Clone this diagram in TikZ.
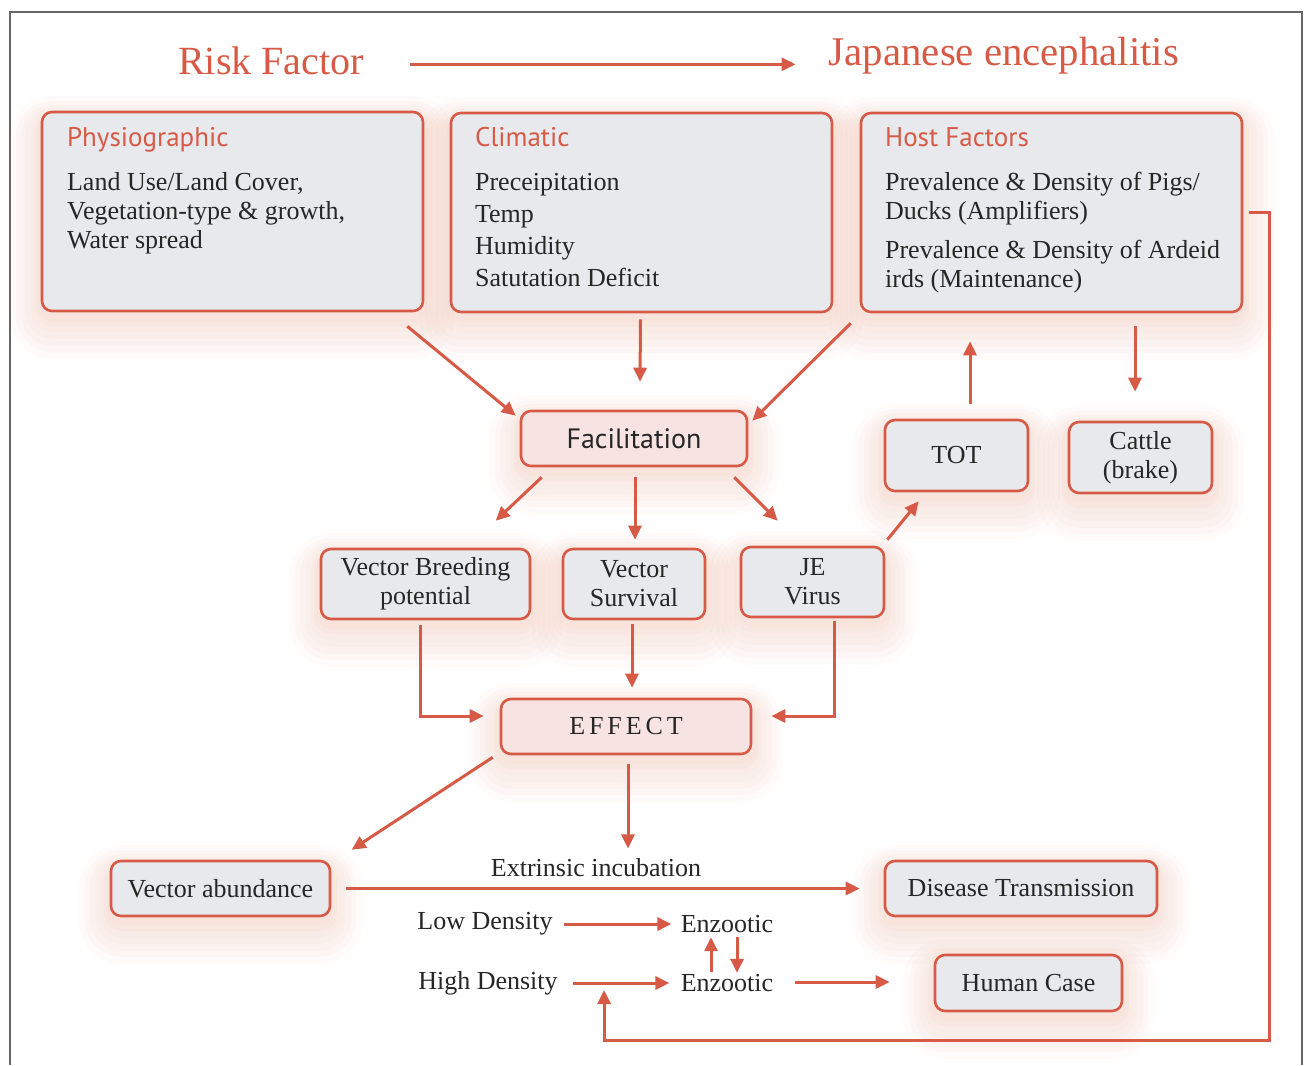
\documentclass[tikz,border=0pt]{standalone}
\usepackage{fontspec}
\setmainfont{Liberation Serif}
\setsansfont{PT Sans}
\usetikzlibrary{arrows.meta,positioning,calc}
\definecolor{jered}{HTML}{D65A45}
\definecolor{boxc}{HTML}{E8E9ED}
\definecolor{pinkc}{HTML}{F7E4E2}
\definecolor{glowc}{HTML}{E39A80}
\definecolor{inkc}{HTML}{262626}
\definecolor{framec}{HTML}{666666}
\newcommand{\jebody}{\fontsize{13}{14.5}\selectfont}
\newcommand{\jehead}{\fontsize{13.5}{16}\selectfont\sffamily\color{jered}}
\tikzset{
  glowring/.style 2 args={preaction={draw=glowc, line width=#1, draw opacity=0.045, line join=round, transform canvas={yshift=#2}}},
  glow/.style={glowring={32pt}{-8pt}, glowring={26pt}{-7.5pt}, glowring={21pt}{-7pt}, glowring={16pt}{-6pt},
    glowring={11pt}{-5pt}, glowring={7pt}{-4pt}, glowring={4pt}{-3pt}},
  blk/.style={draw=jered, line width=1.3pt, rounded corners=5pt, fill=boxc, glow, inner sep=0pt, align=center, font=\jebody, text=inkc},
  pblk/.style={blk, fill=pinkc},
  txt/.style={inner sep=0pt, font=\jebody, text=inkc},
  arr/.style={-{Triangle[length=7pt,width=6.5pt]}, line width=1.5pt, draw=jered},
}
\begin{document}
\begin{tikzpicture}[x=0.5pt, y=-0.5pt]
  \useasboundingbox (0,0) rectangle (1304,1065);
  \draw[framec, line width=0.7pt] (10,1065) -- (10,12) -- (1302,12) -- (1302,1065);

  % title line
  \node[txt, anchor=base, font=\fontsize{20}{22}\selectfont, text=jered] (risk) at (271,75) {Risk Factor};
  \node[txt, anchor=base, font=\fontsize{20.4}{22}\selectfont, text=jered] (japan) at (1004,66) {Japanese encephalitis};

  % factor boxes
  \node[blk, minimum width=190.5pt, minimum height=99.5pt] (phys) at (232.5,211.5) {};
  \node[blk, minimum width=190.5pt, minimum height=99.5pt] (clim) at (641.5,212.5) {};
  \node[blk, minimum width=190.5pt, minimum height=99.5pt] (host) at (1051.5,212.5) {};
  \node[txt, anchor=north west, align=left] (physt) at ([shift={(26,16)}]phys.north west)
    {{\jehead Physiographic}\\[7.5pt] Land Use/Land Cover,\\ Vegetation-type \& growth,\\ Water spread};
  \node[txt, anchor=north west, align=left, font=\fontsize{13}{16}\selectfont] (climt) at ([shift={(25,15)}]clim.north west)
    {{\jehead Climatic}\\[6pt] Preceipitation\\ Temp\\ Humidity\\ Satutation Deficit};
  \node[txt, anchor=north west, align=left] (hostt) at ([shift={(25,15)}]host.north west)
    {{\jehead Host Factors}\\[7.5pt] Prevalence \& Density of Pigs/\\ Ducks (Amplifiers)\\[5pt]
     Prevalence \& Density of Ardeid\\ irds (Maintenance)};

  % middle
  \node[pblk, minimum width=113pt, minimum height=27.5pt, font=\fontsize{14}{16}\selectfont\sffamily] (facil) at (634,438.5) {Facilitation};
  \node[blk, minimum width=104.5pt, minimum height=35pt] (vbp) at (425.5,584) {Vector Breeding\\ potential};
  \node[blk, minimum width=71pt, minimum height=35pt] (vs) at (634,584) {Vector\\ Survival};
  \node[blk, minimum width=71.5pt, minimum height=35pt] (jev) at (812.5,582) {JE\\ Virus};
  \node[blk, minimum width=71.5pt, minimum height=35.5pt] (tot) at (956.5,455.5) {TOT};
  \node[blk, minimum width=71.5pt, minimum height=35.5pt] (cattle) at (1140.5,457.5) {Cattle\\ (brake)};
  \node[pblk, minimum width=125pt, minimum height=27.5pt] (effect) at (626,726.5) {\addfontfeature{LetterSpace=15}EFFECT};

  % bottom
  \node[blk, minimum width=109.5pt, minimum height=27.5pt] (vabund) at (220.5,888.5) {Vector abundance};
  \node[blk, minimum width=136pt, minimum height=27.5pt] (distr) at (1021,888.5) {Disease Transmission};
  \node[blk, minimum width=93.5pt, minimum height=28pt] (human) at (1028.5,983) {Human Case};
  \node[txt] (extr) at (596,868) {Extrinsic incubation};
  \node[txt] (lowd) at (485,924) {Low Density};
  \node[txt] (highd) at (488,983) {High Density};
  \node[txt] (enz1) at (727,924) {Enzootic};
  \node[txt] (enz2) at (727,983) {Enzootic};

  \draw[arr] ([shift={(46,3)}]risk.east) -- ([shift={(-33,3)}]risk.east -| japan.west);
  \draw[arr] ([shift={(-17,14)}]phys.south east) -- ([shift={(-4,6)}]facil.north west);
  \draw[arr] ([shift={(-1,6)}]clim.south) -- ([shift={(6,-28)}]facil.north);
  \draw[arr] ([shift={(-9,10)}]host.south west) -- ([shift={(4,11)}]facil.north east);
  \draw[arr] ([shift={(22,10)}]facil.south west) -- ([shift={(176,-27)}]vbp.north west);
  \draw[arr] ([shift={(1,10)}]facil.south) -- ([shift={(1,-8)}]vs.north);
  \draw[arr] ([shift={(-14,10)}]facil.south east) -- ([shift={(38,-25)}]jev.north west);
  \draw[arr] ([shift={(2,-6)}]jev.north east) -- ([shift={(35,9)}]tot.south west);
  \draw[arr] ([shift={(13.5,-15)}]tot.north) -- ([shift={(-81.5,28)}]host.south);
  \draw[arr] ([shift={(83.5,13)}]host.south) -- ([shift={(-5.5,-29)}]cattle.north);
  \draw[arr] ([shift={(-5.5,5)}]vbp.south) |- ([shift={(-16,-10.5)}]effect.west);
  \draw[arr] ([shift={(-2,4)}]vs.south) -- ([shift={(6,-10)}]effect.north);
  \draw[arr] ([shift={(21.5,3)}]jev.south) |- ([shift={(19,-10.5)}]effect.east);
  \draw[arr] ([shift={(-7,2)}]effect.south west) -- ([shift={(242,-10)}]vabund.north west);
  \draw[arr] ([shift={(2,9)}]effect.south) -- ([shift={(2,-10)}]effect.south |- extr.north);
  \draw[arr] ([shift={(15,0)}]vabund.east) -- ([shift={(-24,0)}]distr.west);
  \draw[arr, shorten <=5.5pt, shorten >=4.5pt] (lowd.east) -- (enz1.west);
  \draw[arr, shorten <=7.5pt, shorten >=5.5pt] (highd.east) -- (enz2.west);
  \draw[arr] ([shift={(-16,-2)}]enz2.north) -- ([shift={(-16,4)}]enz1.south);
  \draw[arr] ([shift={(10,4)}]enz1.south) -- ([shift={(10,-1)}]enz2.north);
  \draw[arr] ([shift={(21,-1)}]enz2.east) -- ([shift={(-44,-1)}]human.west);
  \draw[arr] ([shift={(6,0)}]host.east) -- ++(20,0) |- ([shift={(46,57)}]highd.east) -- ([shift={(46,7)}]highd.east);
\end{tikzpicture}
\end{document}
